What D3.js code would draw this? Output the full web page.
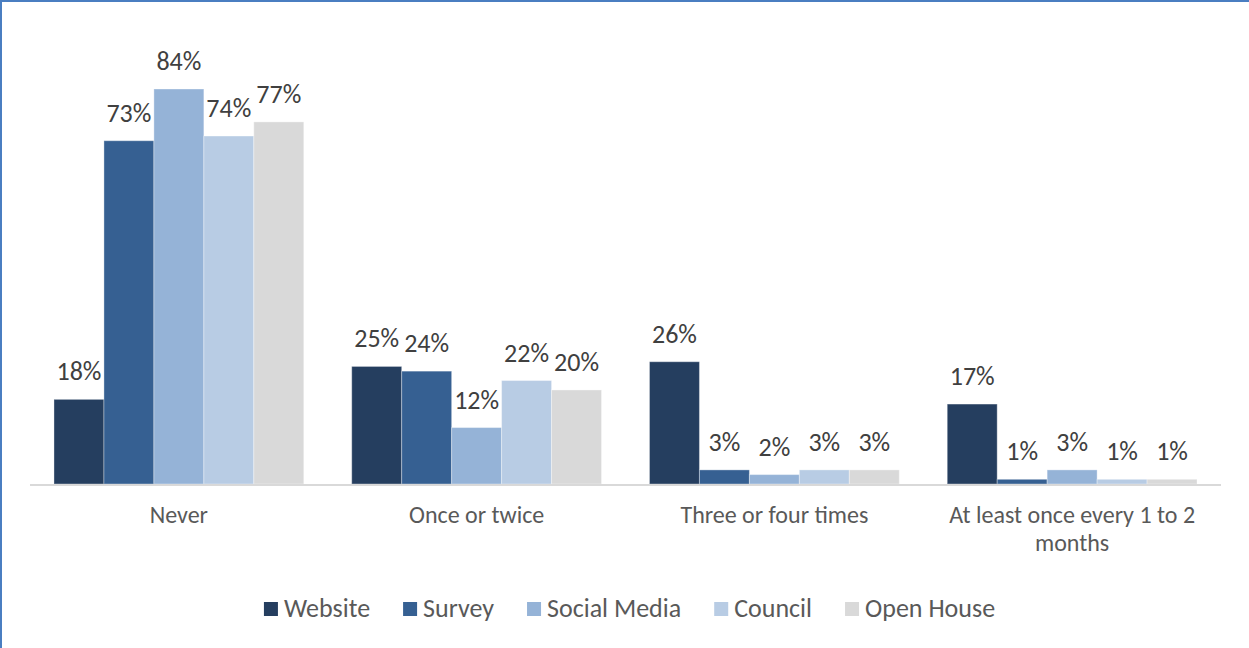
<!DOCTYPE html>
<html>
<head>
<meta charset="utf-8">
<script src="https://cdn.jsdelivr.net/npm/d3@7"></script>
<style>
  html, body { margin: 0; padding: 0; background: #fff; }
  svg { display: block; font-family: Carlito, Lato, "Open Sans", sans-serif; }
</style>
</head>
<body>
<svg id="chart" width="1249" height="648"></svg>
<script>
// Frequency of engagement by channel (percent of respondents)
const categories = ["Never", "Once or twice", "Three or four times", "At least once every 1 to 2 months"];
const seriesNames = ["Website", "Survey", "Social Media", "Council", "Open House"];
const website     = [18, 25, 26, 17];
const survey      = [73, 24, 3, 1];
const socialMedia = [84, 12, 2, 3];
const council     = [74, 22, 3, 1];
const openHouse   = [77, 20, 3, 1];
const seriesColors = ["#253E5F", "#366092", "#95B3D7", "#B8CCE4", "#D9D9D9"];

const seriesValues = [website, survey, socialMedia, council, openHouse];
const rows = categories.map((c, i) => ({
  category: c,
  values: seriesNames.map((s, j) => ({ series: s, value: seriesValues[j][i], color: seriesColors[j] }))
}));

const svg = d3.select("#chart");
const W = 1249, H = 648;

// frame edges
svg.append("rect").attr("x", 0).attr("y", 0).attr("width", W).attr("height", H).attr("fill", "#fff");
svg.append("line").attr("x1", 1).attr("x2", 1).attr("y1", 0).attr("y2", H)
  .attr("stroke", "#4A7EC1").attr("stroke-width", 2);
svg.append("line").attr("x1", 0).attr("x2", W).attr("y1", 1).attr("y2", 1)
  .attr("stroke", "#4A7EC1").attr("stroke-width", 2);

const plot = { left: 30, right: 1221, top: 14, bottom: 484 };

const x0 = d3.scaleBand().domain(categories).range([plot.left, plot.right]).padding(0);
const x1 = d3.scaleBand().domain(seriesNames)
  .range([0, x0.bandwidth()]).paddingInner(0).paddingOuter(0.48);
const y = d3.scaleLinear().domain([0, 84]).range([plot.bottom, 89]);

// bars
const groups = svg.append("g").selectAll("g").data(rows).join("g")
  .attr("transform", d => `translate(${x0(d.category)},0)`);

groups.selectAll("rect").data(d => d.values).join("rect")
  .attr("x", d => x1(d.series))
  .attr("y", d => y(d.value))
  .attr("width", x1.bandwidth())
  .attr("height", d => plot.bottom - y(d.value))
  .attr("fill", d => d.color)
  .attr("stroke", "rgba(255,255,255,0.35)")
  .attr("stroke-width", 1);

// value labels
groups.selectAll("text").data(d => d.values).join("text")
  .attr("x", d => x1(d.series) + x1.bandwidth() / 2)
  .attr("y", d => y(d.value) - 19)
  .attr("text-anchor", "middle")
  .attr("font-size", 26)
  .attr("fill", "#404040")
  .text(d => d.value + "%");

// category axis
const xAxis = svg.append("g").attr("transform", `translate(0,${plot.bottom})`)
  .call(d3.axisBottom(x0).tickSize(0).tickPadding(0));
xAxis.select(".domain").attr("stroke", "#D9D9D9").attr("stroke-width", 2)
  .attr("d", `M${plot.left},1H${plot.right}`);
xAxis.selectAll(".tick text").remove();

// wrapped category labels
const maxLabelWidth = 260;
svg.append("g").selectAll("text").data(categories).join("text")
  .attr("x", d => x0(d) + x0.bandwidth() / 2)
  .attr("y", plot.bottom + 39)
  .attr("text-anchor", "middle")
  .attr("font-size", 24)
  .attr("fill", "#595959")
  .each(function(d) {
    const t = d3.select(this);
    const cx = +t.attr("x");
    const words = d.split(" ");
    let line = [];
    let tspan = t.append("tspan").attr("x", cx).attr("dy", 0);
    words.forEach(w => {
      line.push(w);
      tspan.text(line.join(" "));
      if (tspan.node().getComputedTextLength() > maxLabelWidth && line.length > 1) {
        line.pop();
        tspan.text(line.join(" "));
        line = [w];
        tspan = t.append("tspan").attr("x", cx).attr("dy", 28).text(w);
      }
    });
  });

// legend
const legend = svg.append("g");
const items = legend.selectAll("g").data(seriesNames).join("g");
items.append("rect").attr("width", 14).attr("height", 14).attr("y", 602)
  .attr("fill", (d, i) => seriesColors[i]);
items.append("text").attr("x", 20).attr("y", 617)
  .attr("font-size", 26).attr("fill", "#595959").text(d => d);

const widths = [];
items.each(function() {
  const w = 20 + d3.select(this).select("text").node().getComputedTextLength();
  widths.push(w);
});
const gap = 33;
const total = d3.sum(widths) + gap * (widths.length - 1);
let start = 629.5 - total / 2;
items.attr("transform", (d, i) => {
  const tx = start;
  start += widths[i] + gap;
  return `translate(${tx},0)`;
});
</script>
</body>
</html>
